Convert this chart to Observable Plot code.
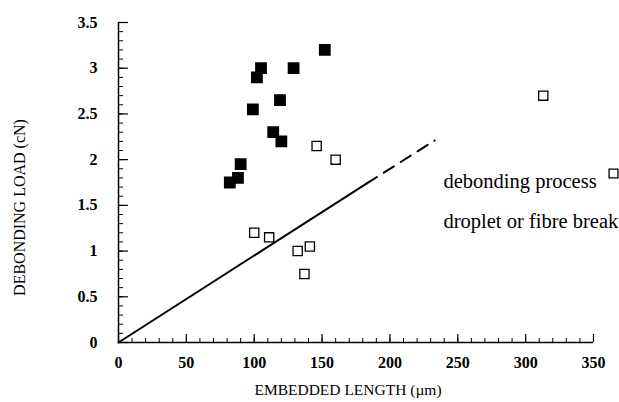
<!DOCTYPE html>
<html><head><meta charset="utf-8">
<script src="https://cdn.jsdelivr.net/npm/d3@7"></script>
<script src="https://cdn.jsdelivr.net/npm/@observablehq/plot@0.6"></script>
<style>
body{margin:0;background:#fff}
svg{display:block}
svg, svg text{font-family:"Liberation Serif","Times New Roman",serif !important}
</style>
</head><body><div id="chart"></div>
<script>
// droplet or fibre break (filled squares)
const breakX = [82, 88, 90, 99, 102, 105, 129, 119, 114, 120, 152];
const breakY = [1.75, 1.8, 1.95, 2.55, 2.9, 3.0, 3.0, 2.65, 2.3, 2.2, 3.2];
// debonding process (open squares)
const debondX = [146, 160, 100, 111, 132, 141, 137, 313];
const debondY = [2.15, 2.0, 1.2, 1.15, 1.0, 1.05, 0.75, 2.7];
// fitted line: solid part and dashed extrapolation
const fitX = [0, 183];
const fitY = [0, 1.74];
const extX = [183, 233];
const extY = [1.74, 2.21];
const xTicks = [0, 50, 100, 150, 200, 250, 300, 350];
const yTicks = [0, 0.5, 1, 1.5, 2, 2.5, 3, 3.5];
const yTickLabels = ["0", "0.5", "1", "1.5", "2", "2.5", "3", "3.5"];
const xMinor = d3.range(0, 351, 10);
const yMinor = d3.range(0, 3.501, 0.1);
const legendLabels = ["debonding process", "droplet or fibre break"];
const xLabel = "EMBEDDED LENGTH (µm)";
const yLabel = "DEBONDING LOAD (cN)";

const serif = "Liberation Serif";
const idx = a => a.map((_, i) => i);

const chart = Plot.plot({
  width: 619, height: 402,
  marginLeft: 118, marginRight: 26, marginTop: 22, marginBottom: 60,
  style: {background: "#fff", color: "#000", overflow: "visible"},
  x: {domain: [0, 350], axis: null},
  y: {domain: [0, 3.5], axis: null},
  marks: [
    Plot.ruleX([0], {stroke: "#000", strokeWidth: 1.5}),
    Plot.ruleY([0], {stroke: "#000", strokeWidth: 1.5}),
    // minor ticks
    Plot.axisX(xMinor, {tickSize: -4, tickFormat: () => "", label: null, stroke: "#000"}),
    Plot.axisY(yMinor, {tickSize: -5, tickFormat: () => "", label: null, stroke: "#000"}),
    // major ticks
    Plot.axisX(xTicks, {tickSize: -8, tickFormat: () => "", label: null, stroke: "#000", strokeWidth: 1.2}),
    Plot.axisY(yTicks, {tickSize: -10, tickFormat: () => "", label: null, stroke: "#000", strokeWidth: 1.2}),
    // tick labels
    Plot.axisX(xTicks, {tickSize: 0, tickPadding: 14, label: null, fontSize: 16, fontWeight: "bold", fontFamily: serif, fill: "#000"}),
    Plot.axisY(yTicks, {tickSize: 0, tickPadding: 21, label: null, fontSize: 16, fontWeight: "bold", fontFamily: serif, fill: "#000",
      tickFormat: d => yTickLabels[yTicks.indexOf(d)]}),
    // axis titles
    Plot.text([xLabel], {frameAnchor: "bottom", dx: -8, dy: 52, fontSize: 15.5, fontFamily: serif, fill: "#000"}),
    Plot.text([yLabel], {frameAnchor: "left", textAnchor: "middle", dx: -99, dy: 25, rotate: -90, fontSize: 16, fontFamily: serif, fill: "#000"}),
    // fit line
    Plot.line(idx(fitX), {x: i => fitX[i], y: i => fitY[i], stroke: "#000", strokeWidth: 2}),
    Plot.line(idx(extX), {x: i => extX[i], y: i => extY[i], stroke: "#000", strokeWidth: 2, strokeDasharray: "12,8"}),
    // points
    Plot.dot(idx(debondX), {x: i => debondX[i], y: i => debondY[i], symbol: "square", r: 5.2, stroke: "#000", strokeWidth: 1.3, fill: "#fff"}),
    Plot.dot(idx(breakX), {x: i => breakX[i], y: i => breakY[i], symbol: "square", r: 5.8, fill: "#000", stroke: "#000"}),
    // legend
    Plot.text([legendLabels[0]], {frameAnchor: "top-left", dx: 325, dy: 151, fontSize: 20.5, fontFamily: serif, textAnchor: "start", fill: "#000"}),
    Plot.text([legendLabels[1]], {frameAnchor: "top-left", dx: 325, dy: 191, fontSize: 20.5, fontFamily: serif, textAnchor: "start", fill: "#000"}),
    Plot.dot([0], {frameAnchor: "top-left", dx: 495, dy: 151, symbol: "square", r: 5, stroke: "#000", strokeWidth: 1.3, fill: "#fff"})
  ]
});
document.getElementById("chart").appendChild(chart);
</script>
</body></html>
